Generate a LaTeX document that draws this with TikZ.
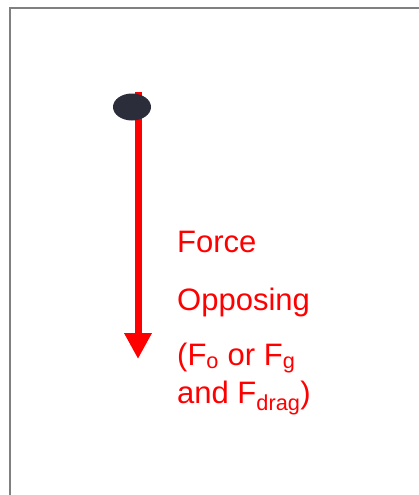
\documentclass[tikz,border=0pt]{standalone}
\usepackage{fontspec}
\setmainfont{Liberation Sans}
\usetikzlibrary{arrows.meta,shapes.geometric}
\definecolor{forcered}{HTML}{FF0000}
\definecolor{dotnavy}{HTML}{2B2D3A}
\definecolor{framegray}{HTML}{808080}
\newcommand{\fsub}[1]{\textsubscript{#1}}
\tikzset{
  framebox/.style={draw=framegray, line width=2pt},
  massdot/.style={ellipse, fill=dotnavy, minimum width=38pt, minimum height=27pt, inner sep=0pt},
  forcearrow/.style={forcered, line width=7pt,
    -{Triangle[width=26pt, length=26pt]}},
  forcelabel/.style={text=forcered, anchor=base west, align=left,
    font=\fontsize{31}{38}\selectfont, inner sep=0pt}
}
\begin{document}
\begin{tikzpicture}[x=1pt, y=-1pt]
  \useasboundingbox (0,0) rectangle (419,495);
  % Rahmen (nur oben und links sichtbar)
  \draw[framebox] (10,495) |- (419,8);
  % Masse und Kraftpfeil
  \coordinate (top) at (138,92);
  \coordinate (tip) at (138,359);
  \draw[forcearrow] (top) -- (tip);
  \node[massdot] (mass) at (132,107) {};
  \node[forcelabel] (force) at (177,252) {Force};
  \node[forcelabel] (opposing) at (177,310) {Opposing};
  % base anchor = letzte Zeile
  \node[forcelabel] (names) at (177,403)
    {(F\fsub{o} or F\fsub{g}\\and F\fsub{drag})};
\end{tikzpicture}
\end{document}
